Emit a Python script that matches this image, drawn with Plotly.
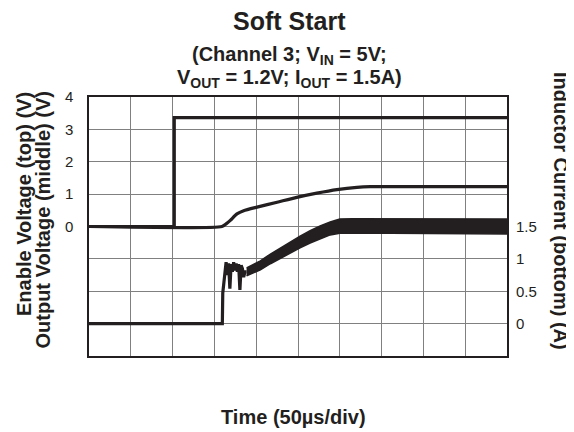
import plotly.graph_objects as go

# ---- data (x in divisions, 50 us/div) ----
t_enable = [0, 2.04, 2.04, 10]
v_enable = [0, 0, 3.36, 3.36]

t_vout = [0, 3.18, 3.28, 3.38, 3.54, 3.70, 4.02, 4.50, 4.97, 5.45, 5.93, 6.41, 6.73, 7.2, 10]
v_vout = [0, 0, 0.08, 0.19, 0.39, 0.49, 0.60, 0.75, 0.90, 1.03, 1.14, 1.21, 1.23, 1.23, 1.23]

t_il_start = [0, 3.19, 3.20, 3.23, 3.26, 3.28, 3.31, 3.34, 3.37, 3.40, 3.43, 3.46,
              3.49, 3.52, 3.55, 3.58, 3.61, 3.64, 3.67, 3.70, 3.73, 3.77]
il_start = [0, 0, 0.47, 0.67, 0.90, 0.95, 0.75, 0.93, 0.54, 0.92, 0.80, 0.95,
            0.82, 0.93, 0.80, 0.92, 0.52, 0.90, 0.85, 0.72, 0.80, 0.80]

t_il_band = [3.77, 3.9, 4.1, 4.34, 4.58, 4.81, 5.05, 5.29, 5.53, 5.77, 6.0, 6.3, 10]
il_upper = [0.86, 0.905, 0.97, 1.075, 1.17, 1.265, 1.35, 1.435, 1.51, 1.57, 1.615, 1.62, 1.615]
il_lower = [0.74, 0.775, 0.83, 0.925, 1.01, 1.095, 1.17, 1.245, 1.31, 1.37, 1.395, 1.40, 1.385]

left_tickvals = [-4, -3, -2, -1, 0, 1, 2, 3, 4]
left_ticktext = [" ", " ", " ", " ", "0", "1", "2", "3", "4"]
right_tickvals = [-0.5, 0, 0.5, 1, 1.5, 2, 2.5, 3, 3.5]
right_ticktext = [" ", "0", "0.5", "1", "1.5", " ", " ", " ", " "]

title_main = "<b>Soft Start</b>"
title_l2 = "<b>(Channel 3; V<sub>IN</sub> = 5V;</b>"
title_l3 = "<b>V<sub>OUT</sub> = 1.2V; I<sub>OUT</sub> = 1.5A)</b>"
ytitle_1 = "<b>Enable Voltage (top) (V)</b>"
ytitle_2 = "<b>Output Voltage (middle) (V)</b>"
y2title = "<b>Inductor Current (bottom) (A)</b>"
xtitle = "<b>Time (50µs/div)</b>"

# ---- layout geometry (page pixels; page body has an 8px margin) ----
OFF = 8
W, H = 574 - OFF, 432 - OFF
PL, PR, PT, PB = 89, 507, 97, 356          # plot box in page pixels
L, T = PL - OFF, PT - OFF
R, B = W - (PR - OFF), H - (PB - OFF)
PW, PH = PR - PL, PB - PT


def px(x):
    return (x - PL) / PW


def py(y):
    return (PB - y) / PH


INK = "#231f20"
FONT = "Liberation Sans, Arial, sans-serif"

fig = go.Figure()

fig.add_trace(go.Scatter(x=t_enable, y=v_enable, mode="lines",
                         line=dict(color=INK, width=3.2), showlegend=False))
fig.add_trace(go.Scatter(x=t_vout, y=v_vout, mode="lines",
                         line=dict(color=INK, width=3.2, shape="spline", smoothing=0.6),
                         showlegend=False))
fig.add_trace(go.Scatter(x=t_il_start, y=il_start, mode="lines", yaxis="y2",
                         line=dict(color=INK, width=3.2), showlegend=False))
fig.add_trace(go.Scatter(x=t_il_band, y=il_lower, mode="lines", yaxis="y2",
                         line=dict(color=INK, width=1.5), showlegend=False))
fig.add_trace(go.Scatter(x=t_il_band, y=il_upper, mode="lines", yaxis="y2",
                         fill="tonexty", fillcolor=INK,
                         line=dict(color=INK, width=1.5), showlegend=False))

grid = "#808080"
fig.update_layout(
    width=W, height=H,
    margin=dict(l=L, r=R, t=T, b=B, autoexpand=False),
    paper_bgcolor="white", plot_bgcolor="white",
    font=dict(family=FONT, color=INK),
    xaxis=dict(range=[0, 10], dtick=1, tick0=0, showticklabels=False,
               showgrid=True, gridcolor=grid, gridwidth=1, zeroline=False,
               showline=True, linecolor=INK, linewidth=1.5, mirror=True, ticks=""),
    yaxis=dict(range=[-4, 4], tickmode="array", tickvals=left_tickvals,
               ticktext=left_ticktext, showgrid=True, gridcolor=grid, gridwidth=1,
               zeroline=False, showline=True, linecolor=INK, linewidth=1.5,
               mirror=True, ticks="", ticklabelstandoff=11,
               tickfont=dict(size=15, color=INK)),
    yaxis2=dict(range=[-0.5, 3.5], overlaying="y", side="right", tickmode="array",
                tickvals=right_tickvals, ticktext=right_ticktext, showgrid=False,
                zeroline=False, showline=False, ticks="", ticklabelstandoff=8,
                tickfont=dict(size=15, color=INK)),
)

ann = [
    dict(text=title_main, x=px(289), y=py(21), font=dict(size=25)),
    dict(text=title_l2, x=px(289), y=py(55), font=dict(size=20)),
    dict(text=title_l3, x=px(289), y=py(79), font=dict(size=20)),
    dict(text=xtitle, x=px(293), y=py(417), font=dict(size=20)),
]
for a in ann:
    a.update(xref="paper", yref="paper", xanchor="center", yanchor="middle",
             showarrow=False)
    fig.add_annotation(**a)

fig.add_annotation(text=ytitle_1, x=px(24), y=py(90), xref="paper", yref="paper",
                   xanchor="center", yanchor="top", textangle=-90, showarrow=False,
                   font=dict(size=20))
fig.add_annotation(text=ytitle_2, x=px(42), y=py(90), xref="paper", yref="paper",
                   xanchor="center", yanchor="top", textangle=-90, showarrow=False,
                   font=dict(size=20))
fig.add_annotation(text=y2title, x=px(561), y=py(70), xref="paper", yref="paper",
                   xanchor="center", yanchor="top", textangle=90, showarrow=False,
                   font=dict(size=20))

fig.write_html("out.html")
